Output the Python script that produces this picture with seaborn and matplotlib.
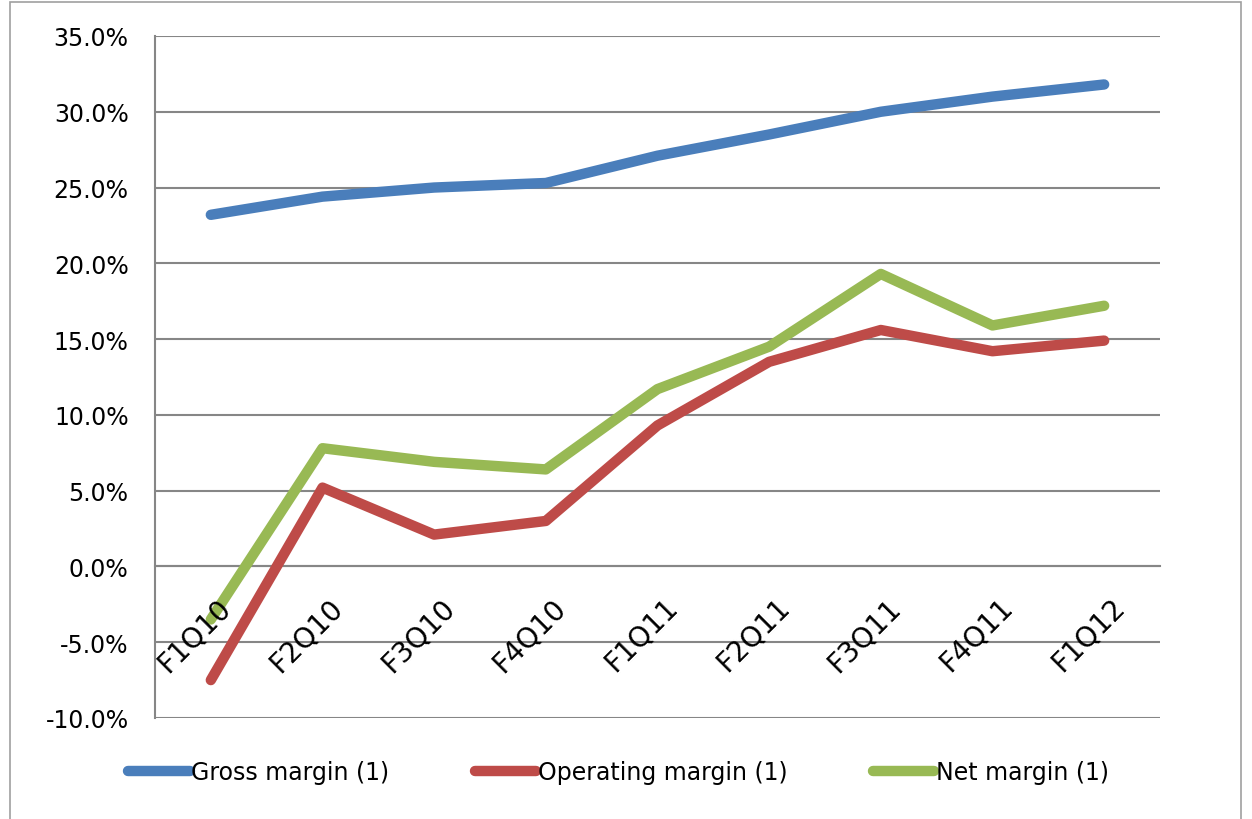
import numpy as np
import pandas as pd
import matplotlib
matplotlib.use("Agg")
import matplotlib.pyplot as plt
import matplotlib.transforms as mtransforms
from matplotlib.patches import Rectangle
import seaborn as sns

# quarters on the x axis
quarters = ["F1Q10", "F2Q10", "F3Q10", "F4Q10", "F1Q11", "F2Q11", "F3Q11", "F4Q11", "F1Q12"]

# margins in percent
gross = [23.2, 24.4, 25.0, 25.3, 27.1, 28.5, 30.0, 31.0, 31.8]
operating = [-7.5, 5.2, 2.1, 3.0, 9.3, 13.5, 15.6, 14.2, 14.9]
net = [-3.5, 7.8, 6.9, 6.4, 11.7, 14.5, 19.3, 15.9, 17.2]

series_names = ["Gross margin (1)", "Operating margin (1)", "Net margin (1)"]
colors = ["#4A7EBB", "#BE4B48", "#98B954"]

# long form table for seaborn
rows = []
for name, vals in zip(series_names, [gross, operating, net]):
    for i, v in enumerate(vals):
        rows.append({"pos": i, "quarter": quarters[i], "margin": v, "series": name})
df = pd.DataFrame(rows)

sns.set_style("white")
plt.rcParams['font.family'] = ['DejaVu Sans']
plt.rcParams['text.color'] = 'black'
fs = 17

fig = plt.figure(figsize=(12.52, 8.2), dpi=100)
ax = fig.add_axes([0.1238, 0.1232, 0.8027, 0.8317])

sns.lineplot(data=df, x="pos", y="margin", hue="series", hue_order=series_names,
             palette=colors, linewidth=7.5, sort=False, ax=ax, legend=False,
             solid_capstyle="round")

ax.set_xlim(-0.5, len(quarters) - 0.5)
ax.set_ylim(-10, 35)
ax.set_yticks(np.arange(-10, 36, 5))
ax.set_yticklabels([f"{v:.1f}%" for v in np.arange(-10, 36, 5)], fontsize=fs, color="black")
ax.yaxis.grid(True, color="#868686", linewidth=1.5)
ax.set_axisbelow(True)
ax.xaxis.set_zorder(3)  # category labels sit on top of the lines
ax.set_xlabel("")
ax.set_ylabel("")

for s in ["top", "right"]:
    ax.spines[s].set_visible(False)
ax.spines["left"].set_color("#868686")
ax.spines["left"].set_linewidth(1.5)
ax.spines["bottom"].set_position(("data", 0))
ax.spines["bottom"].set_color("#868686")
ax.spines["bottom"].set_linewidth(1.5)
ax.spines["bottom"].set_zorder(0.6)
ax.tick_params(axis="y", length=10, width=1.5, color="#868686", direction="out", pad=9)

# category labels at centers, tick marks between categories
ax.set_xticks(range(len(quarters)))
ax.set_xticklabels(quarters, fontsize=20, rotation=45, ha="right", va="top",
                   rotation_mode="anchor", color="black")
ax.set_xticks(np.arange(0.5, len(quarters), 1), minor=True)
ax.tick_params(axis="x", which="major", length=0, pad=10)
ax.tick_params(axis="x", which="minor", length=8, width=1.5, color="#868686", direction="out")
offset = mtransforms.ScaledTranslation(0.06, -0.12, fig.dpi_scale_trans)
for lbl in ax.get_xticklabels():
    lbl.set_transform(lbl.get_transform() + offset)

handles = [plt.Line2D([], [], color=c, linewidth=7.5, solid_capstyle="round") for c in colors]
fig.legend(handles, series_names, loc="center", bbox_to_anchor=(0.494, 0.057), ncol=3,
           frameon=False, fontsize=fs, handlelength=2.6, handletextpad=0.08,
           columnspacing=3.6)

# outer chart border
fig.patches.append(Rectangle((0.008, -0.01), 0.983, 1.006, transform=fig.transFigure,
                             fill=False, edgecolor="#A0A0A0", linewidth=1.2))

fig.savefig("out.png", dpi=100)
